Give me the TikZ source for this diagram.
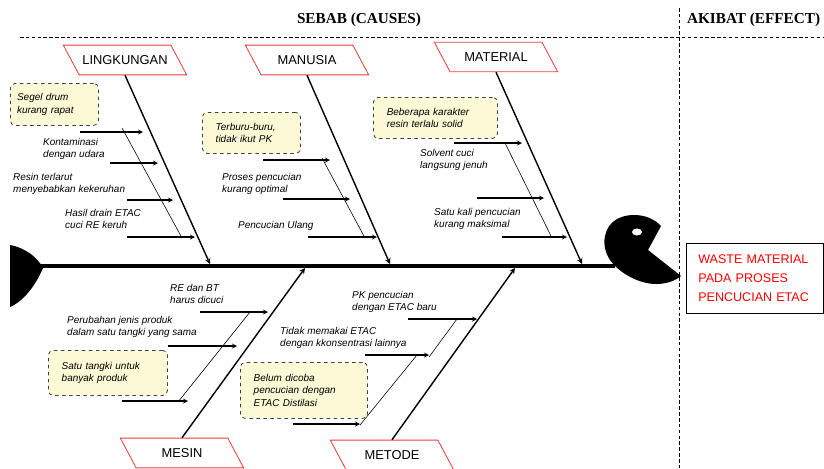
\documentclass[tikz,border=0pt]{standalone}
\usepackage{fontspec}
\setmainfont{Liberation Serif}
\newfontfamily\causefont[WordSpace=2.4]{Liberation Sans}
\newfontfamily\catfont{Liberation Sans}
\usetikzlibrary{arrows.meta, shapes.geometric}
\usepackage{xcolor}
\definecolor{notefill}{HTML}{FCF9D6}
\definecolor{catred}{HTML}{F03C3C}

\begin{document}
\begin{tikzpicture}[
    x=0.03cm, y=-0.03cm,
    >=stealth,
    title/.style={font=\fontsize{13}{15}\selectfont\bfseries},
    cat/.style={trapezium, trapezium left angle=118, trapezium right angle=62,
        trapezium stretches body, draw=catred, line width=0.7pt,
        minimum width=3.7cm, inner xsep=1pt, inner ysep=8.8pt,
        font=\catfont\fontsize{11}{13}\selectfont},
    cause/.style={inner sep=0pt, anchor=north west, align=left,
        font=\causefont\itshape\fontsize{8.5}{10.5}\selectfont},
    note/.style={draw=black!75, dashed, rounded corners=4pt, fill=notefill,
        line width=0.7pt, anchor=north west, align=left,
        inner xsep=0.4cm, inner ysep=0.1cm,
        font=\causefont\itshape\fontsize{8.5}{10.5}\selectfont},
    effect/.style={draw, line width=0.6pt, text=red, align=left,
        text width=3.39cm, inner xsep=0.36cm, minimum height=2.1cm,
        font=\catfont\fontsize{10.7}{16}\selectfont},
    spine/.style={line width=3.5pt},
    bone/.style={->, line width=1.2pt},
    twig/.style={line width=0.5pt},
    leaf/.style={->, line width=0.9pt},
    sep/.style={line width=0.6pt, dash pattern=on 3pt off 2pt}
]
\clip (0,0) rectangle (824,468);

% headings and separators
\node[title] (sebab) at (359,20) {SEBAB (CAUSES)};
\node[title, anchor=west] (akibat) at (683,20) {AKIBAT (EFFECT)};
\draw[sep] (20,37) -- (824,37);
\draw[sep] (679,8) -- (679,468);

% fish: tail, spine, head
\fill (10,245) .. controls (26,248) and (38,258) .. (43,268)
    .. controls (37,282) and (26,300) .. (10,307) -- cycle;
\coordinate (tailtip) at (40,266);
\coordinate (headbase) at (615,266);
\draw[spine] (tailtip) -- (headbase);
\fill (648,250) -- (661,226) .. controls (650,214) and (630,212) .. (617,219)
    .. controls (604,226) and (600,245) .. (610,260)
    .. controls (620,274) and (640,284) .. (656,284)
    .. controls (666,284) and (675,281) .. (681,276) -- cycle;
\fill[white] (637,232) ellipse [x radius=5, y radius=3.5];

% effect
\node[effect, anchor=north west] (waste) at (686,243)
    {WASTE MATERIAL\\PADA PROSES\\PENCUCIAN ETAC};

% categories
\node[cat] (lingk) at (125,60) {LINGKUNGAN};
\node[cat] (manusia) at (307,60) {MANUSIA};
\node[cat] (material) at (496,57) {MATERIAL};
\node[cat] (mesin) at (182,453) {MESIN};
\node[cat] (metode) at (392,455) {METODE};

\coordinate (lkend) at (210,264);
\coordinate (mnend) at (390,264);
\coordinate (mtend) at (582,264);
\coordinate (msend) at (305,268);
\coordinate (meend) at (515,268);

\draw[bone] (lingk.south) -- (lkend);
\draw[bone] (manusia.south) -- (mnend);
\draw[bone] (material.south) -- (mtend);
\draw[bone] (mesin.north) -- (msend);
\draw[bone] (metode.north) -- (meend);

% secondary bones
\coordinate (lka) at (122,128);  \coordinate (lkb) at (182,238);
\coordinate (mna) at (322,158);  \coordinate (mnb) at (365,238);
\coordinate (mta) at (505,143);  \coordinate (mtb) at (552,238);
\coordinate (msa) at (250,312);  \coordinate (msb) at (178,402);
\coordinate (mea) at (457,319);  \coordinate (meb) at (429,357);
\coordinate (mec) at (417,355);  \coordinate (med) at (360,425);
\draw[twig] (lka) -- (lkb);
\draw[twig] (mna) -- (mnb);
\draw[twig] (mta) -- (mtb);
\draw[twig] (msa) -- (msb);
\draw[twig] (mea) -- (meb);
\draw[twig] (mec) -- (med);

% cause arrows
\foreach \n/\xa/\xb/\y in {lk1/80/143/132, lk2/110/158/163, lk3/127/173/200, lk4/127/195/237,
    mn1/263/330/160, mn2/283/350/199, mn3/308/377/237,
    mt1/454/522/143, mt2/477/544/198, mt3/502/567/237,
    ms1/200/268/312, ms2/168/237/346, ms3/122/188/401,
    me1/408/477/319, me2/365/429/355, me3/293/360/424} {
    \coordinate (\n s) at (\xa,\y);
    \coordinate (\n e) at (\xb,\y);
    \draw[leaf] (\n s) -- (\n e);
}

% lingkungan causes
\node[note, text width=2.24cm, inner xsep=0.2cm, minimum height=1.26cm] (lknote) at (10,83)
    {Segel drum\\kurang rapat};
\node[cause] (kontam) at (43,138) {Kontaminasi\\dengan udara};
\node[cause] (resin) at (13,173) {Resin terlarut\\menyebabkan kekeruhan};
\node[cause] (drain) at (65,209) {Hasil drain ETAC\\cuci RE keruh};

% manusia causes
\node[note, text width=2.14cm, minimum height=1.23cm] (mnnote) at (202,112)
    {\mbox{Terburu-buru,}\\tidak ikut PK};
\node[cause] (proses) at (222,173) {Proses pencucian\\kurang optimal};
\node[cause] (ulang) at (238,221) {Pencucian Ulang};

% material causes
\node[note, text width=2.92cm, minimum height=1.23cm] (mtnote) at (373,97)
    {Beberapa karakter\\resin terlalu solid};
\node[cause] (solvent) at (420,149) {Solvent cuci\\langsung jenuh};
\node[cause] (satukali) at (434,208) {Satu kali pencucian\\kurang maksimal};

% mesin causes
\node[cause] (rebt) at (170,284) {RE dan BT\\harus dicuci};
\node[cause] (ubah) at (67,316) {Perubahan jenis produk\\dalam satu tangki yang sama};
\node[note, text width=2.77cm, minimum height=1.35cm] (msnote) at (48,350)
    {Satu tangki untuk\\banyak produk};

% metode causes
\node[cause] (pkbaru) at (352,291) {PK pencucian\\dengan ETAC baru};
\node[cause] (konsen) at (280,327) {Tidak memakai ETAC\\dengan kkonsentrasi lainnya};
\node[note, text width=3.01cm, minimum height=1.68cm] (menote) at (240,362)
    {Belum dicoba\\pencucian dengan\\ETAC Distilasi};
\end{tikzpicture}
\end{document}
